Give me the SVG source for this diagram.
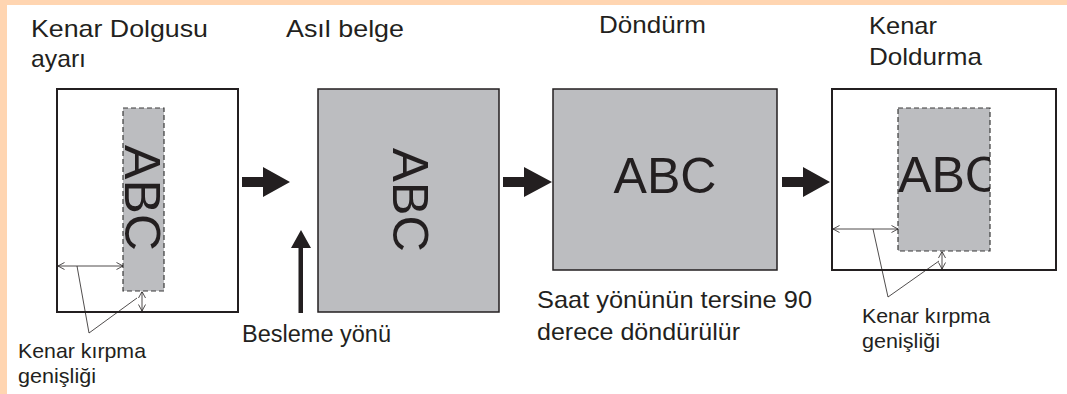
<svg xmlns="http://www.w3.org/2000/svg" width="1067" height="394" viewBox="0 0 1067 394">
<style>
.t{font-family:"Liberation Sans",Arial,sans-serif;fill:#231F20}
.title{font-size:24px}
.lbl{font-size:23px}
.sm{font-size:21px}
.abc{font-family:"Liberation Sans",Arial,sans-serif;font-size:50px;fill:#231F20}
.paper{fill:#fff;stroke:#231F20;stroke-width:2}
.doc{fill:#BCBDC0;stroke:#231F20;stroke-width:1.5}
.crop{fill:#BCBDC0;stroke:#3a3a3a;stroke-width:1.2;stroke-dasharray:5 3}
.dim{fill:none;stroke:#231F20;stroke-width:0.8}
.lead{fill:none;stroke:#231F20;stroke-width:0.8}
.big{fill:#231F20}
</style>
<defs>
<marker id="oa" viewBox="0 0 7 8" refX="7" refY="4" markerWidth="7" markerHeight="8" markerUnits="userSpaceOnUse" orient="auto-start-reverse">
<path d="M0.5,0.5 L7,4 L0.5,7.5" fill="none" stroke="#231F20" stroke-width="0.8"/>
</marker>
<clipPath id="c4"><rect x="898" y="108" width="92" height="143"/></clipPath>
</defs>
<rect x="0" y="0" width="1067" height="394" fill="#fff"/>
<rect x="0" y="0" width="1067" height="5" fill="#FFD5B1"/>
<rect x="0" y="0" width="7" height="394" fill="#FFD5B1"/>

<g id="panel1">
<rect class="paper" x="57" y="89" width="181" height="223"/>
<rect class="crop" x="123" y="108" width="41" height="183"/>
<text class="abc" transform="translate(125,198) rotate(90)" text-anchor="middle" textLength="106" lengthAdjust="spacingAndGlyphs">ABC</text>
<text class="t title" x="31" y="37" textLength="177" lengthAdjust="spacingAndGlyphs">Kenar Dolgusu</text>
<text class="t title" x="31" y="67" textLength="55" lengthAdjust="spacingAndGlyphs">ayarı</text>
</g>

<g id="panel2">
<rect class="doc" x="318" y="89" width="181" height="223"/>
<text class="abc" transform="translate(393,200) rotate(90)" text-anchor="middle" textLength="104" lengthAdjust="spacingAndGlyphs">ABC</text>
<text class="t title" x="286" y="37" textLength="118" lengthAdjust="spacingAndGlyphs">Asıl belge</text>
</g>

<g id="feed">
<text class="t lbl" x="242" y="342" textLength="149" lengthAdjust="spacingAndGlyphs">Besleme yönü</text>
</g>

<g id="panel3">
<rect class="doc" x="553" y="89" width="224" height="181"/>
<text class="abc" x="665" y="193" text-anchor="middle" textLength="103" lengthAdjust="spacingAndGlyphs">ABC</text>
<text class="t title" x="599" y="33" textLength="107" lengthAdjust="spacingAndGlyphs">Döndürm</text>
<text class="t title" x="537" y="308" textLength="275" lengthAdjust="spacingAndGlyphs">Saat yönünün tersine 90</text>
<text class="t title" x="537" y="340" textLength="203" lengthAdjust="spacingAndGlyphs">derece döndürülür</text>
</g>

<g id="panel4">
<rect class="paper" x="832" y="89" width="224" height="181"/>
<rect class="crop" x="898" y="108" width="92" height="143"/>
<text class="abc" x="898" y="192" clip-path="url(#c4)" textLength="103" lengthAdjust="spacingAndGlyphs">ABC</text>
<text class="t title" x="869" y="34" textLength="68" lengthAdjust="spacingAndGlyphs">Kenar</text>
<text class="t title" x="869" y="65" textLength="113" lengthAdjust="spacingAndGlyphs">Doldurma</text>
</g>

<g id="label-left">
<text class="t sm" x="18" y="358" textLength="128" lengthAdjust="spacingAndGlyphs">Kenar kırpma</text>
<text class="t sm" x="18" y="383" textLength="78" lengthAdjust="spacingAndGlyphs">genişliği</text>
</g>

<g id="label-right">
<text class="t sm" x="862" y="323" textLength="128" lengthAdjust="spacingAndGlyphs">Kenar kırpma</text>
<text class="t sm" x="862" y="348" textLength="78" lengthAdjust="spacingAndGlyphs">genişliği</text>
</g>

<g id="connectors">
<path class="big" d="M242,177 H263 V167 L290,182 L263,197 V187 H242 Z"/>
<path class="big" d="M503,177 H524 V167 L552,182 L524,197 V187 H503 Z"/>
<path class="big" d="M782,177 H803 V167 L830,182 L803,197 V187 H782 Z"/>
<path class="big" d="M298.5,313 V248 H291 L301,230 L311,248 H303 V313 Z"/>
<line class="dim" x1="58" y1="266" x2="123" y2="266" marker-start="url(#oa)" marker-end="url(#oa)"/>
<line class="dim" x1="142" y1="291.5" x2="142" y2="311" marker-start="url(#oa)" marker-end="url(#oa)"/>
<polyline class="lead" points="77,266 89,333 137,298"/>
<line class="dim" x1="833" y1="229" x2="898" y2="229" marker-start="url(#oa)" marker-end="url(#oa)"/>
<line class="dim" x1="942" y1="251.5" x2="942" y2="269" marker-start="url(#oa)" marker-end="url(#oa)"/>
<polyline class="lead" points="873,229 888,297 939,261"/>
</g>
</svg>
